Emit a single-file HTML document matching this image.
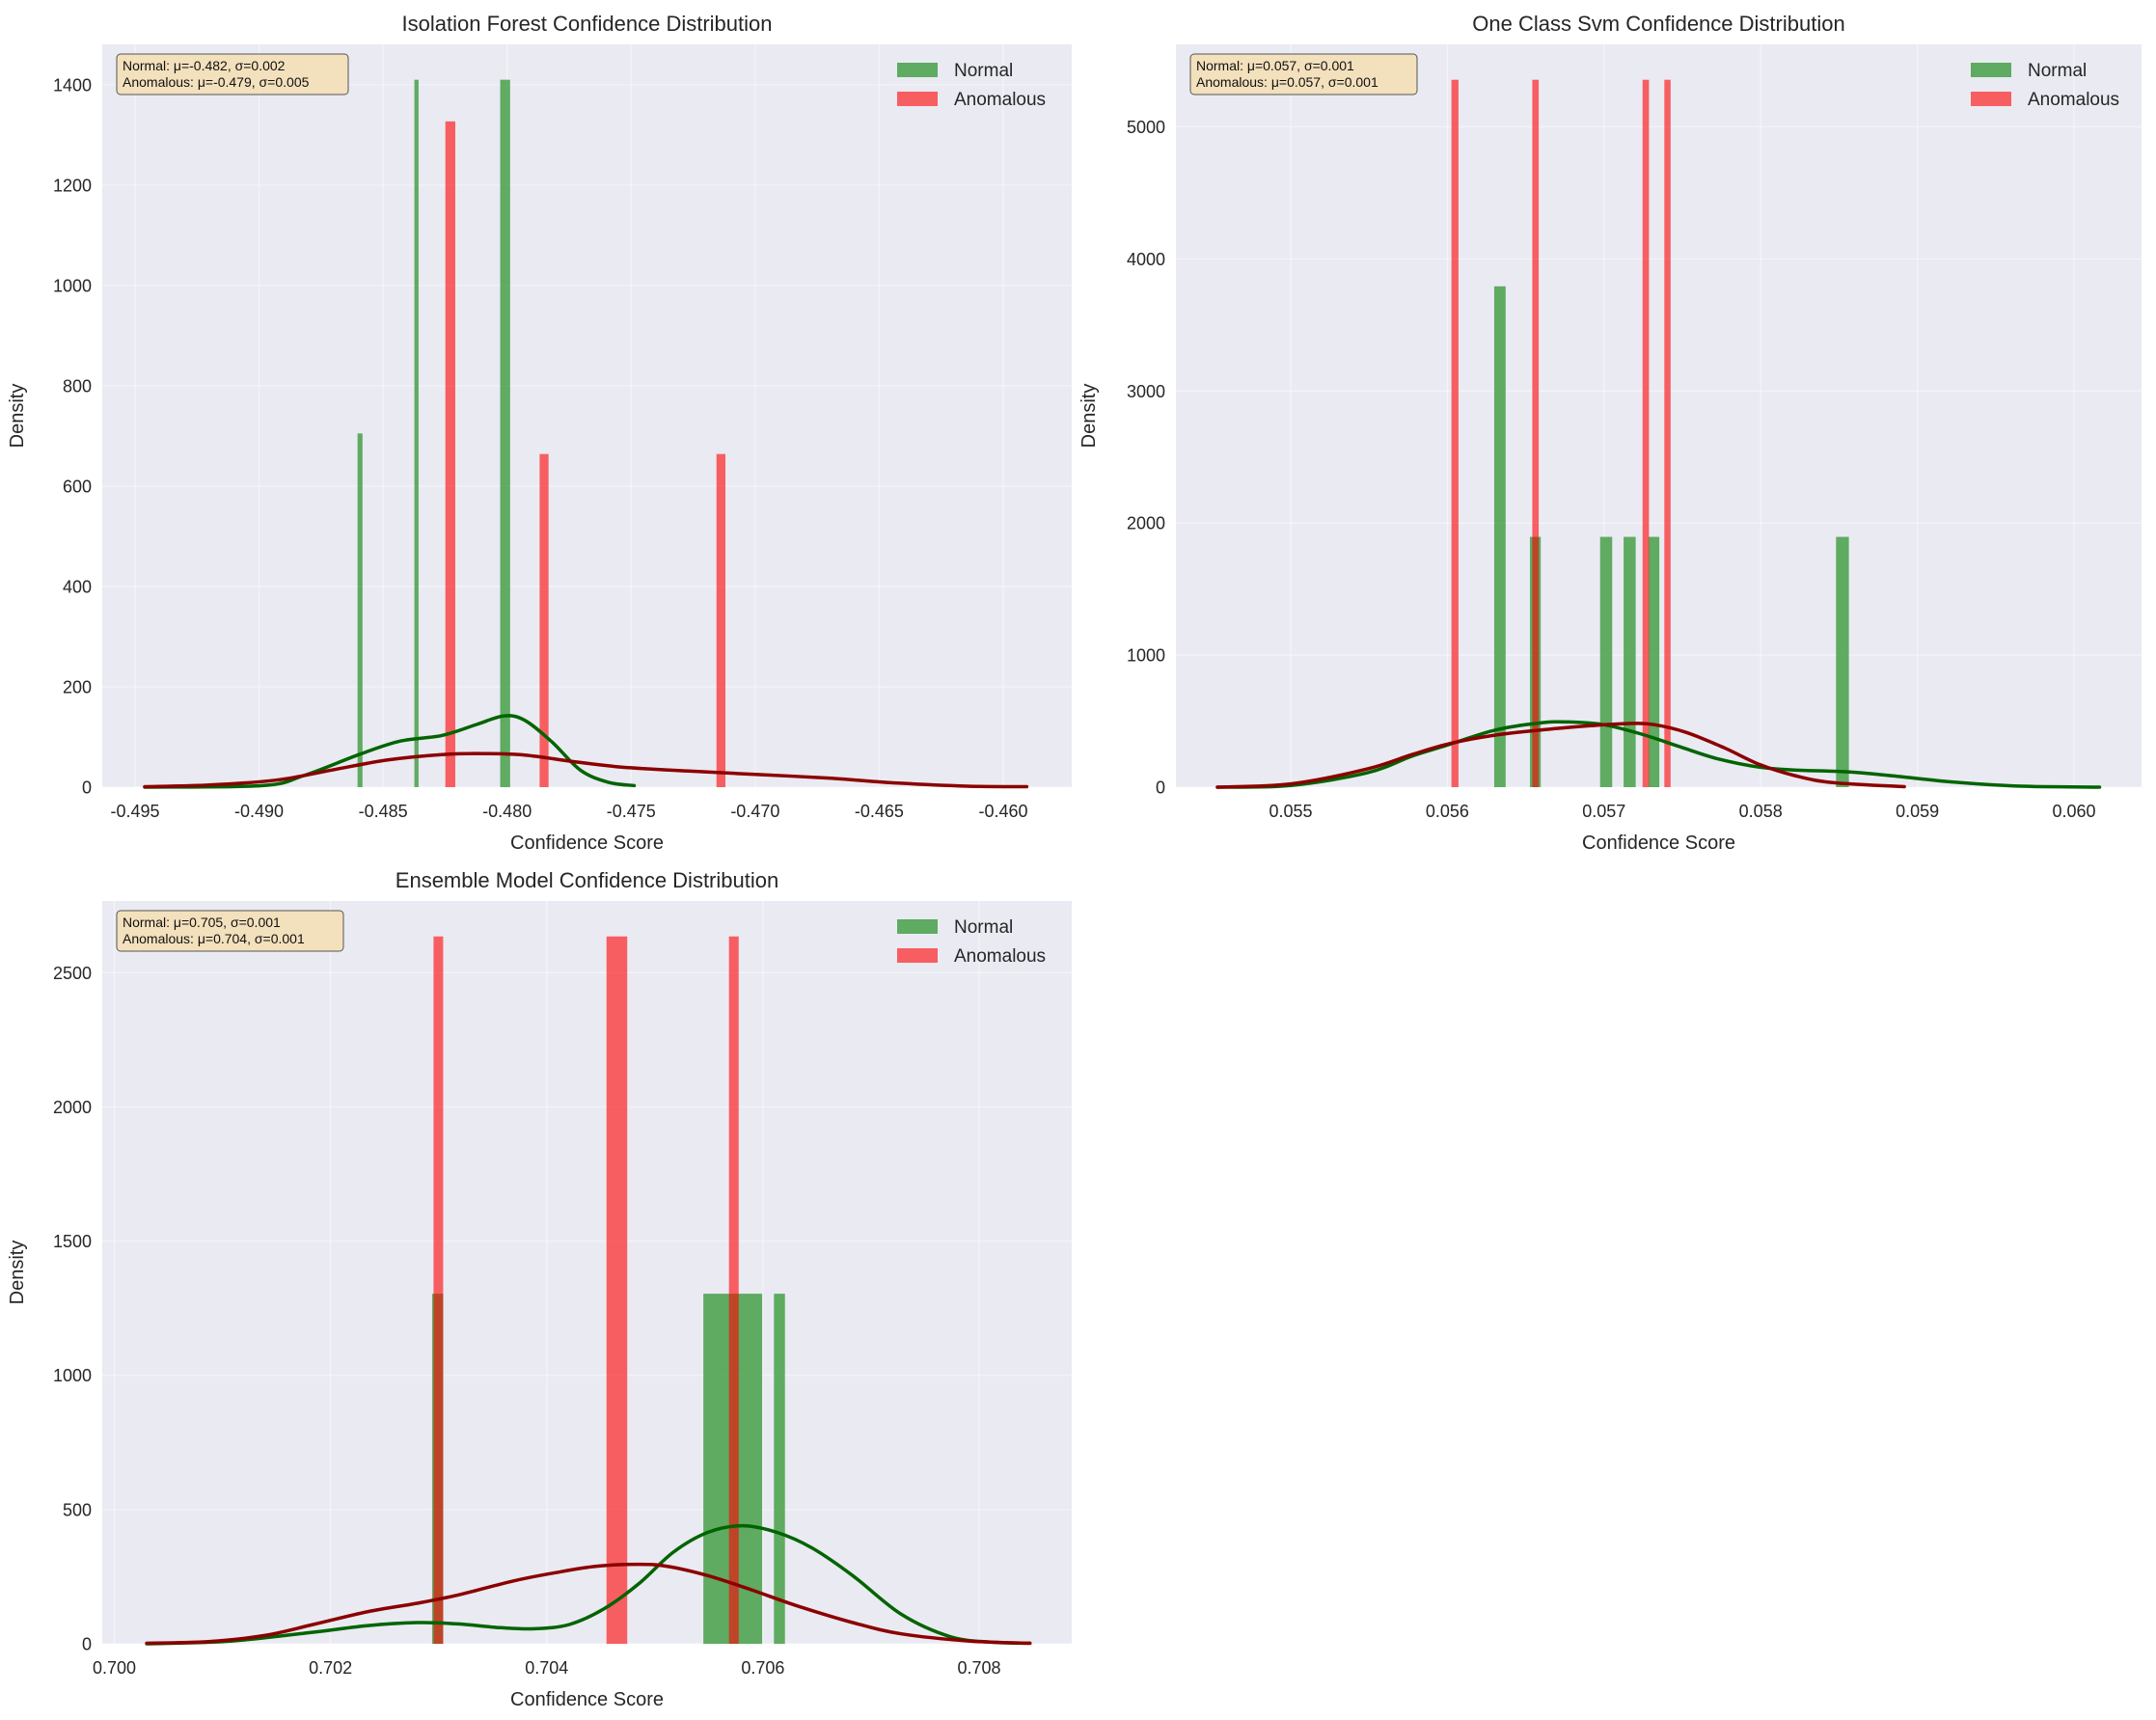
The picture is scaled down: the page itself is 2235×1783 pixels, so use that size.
<!DOCTYPE html>
<html><head><meta charset="utf-8">
<style>
html,body{margin:0;padding:0;background:#fff;}
svg{display:block;font-family:"Liberation Sans",Arial,sans-serif;}
</style></head>
<body>
<svg id="fig" width="2235" height="1783" viewBox="0 0 2235 1783" xmlns="http://www.w3.org/2000/svg"></svg>
<script>
// ---------- Isolation Forest data ----------
const ifNormalBins = [[-0.48603,-0.48583],[-0.48374,-0.48357],[-0.48028,-0.47988]];
const ifNormalDens = [705,1410,1410];
const ifAnomBins = [[-0.48249,-0.48209],[-0.47869,-0.47833],[-0.47156,-0.47120]];
const ifAnomDens = [1327,664,664];
const ifNormKdeX = [-0.49461,-0.48987,-0.48820,-0.48597,-0.48430,-0.48263,-0.48123,-0.48012,-0.47928,-0.47817,-0.47705,-0.47594,-0.47488];
const ifNormKdeY = [0,3,23,65,92,103,125,142,133,89,34,10,3];
const ifAnomKdeX = [-0.49461,-0.49210,-0.48931,-0.48708,-0.48485,-0.48263,-0.48095,-0.47928,-0.47733,-0.47538,-0.47259,-0.46980,-0.46702,-0.46423,-0.46144,-0.45905];
const ifAnomKdeY = [1,4,14,34,54,65,67,64,51,40,32,25,18,8,2,1];
const ifXTicks = [-0.495,-0.490,-0.485,-0.480,-0.475,-0.470,-0.465,-0.460];
const ifXTickLabels = ["-0.495","-0.490","-0.485","-0.480","-0.475","-0.470","-0.465","-0.460"];
const ifYTicks = [0,200,400,600,800,1000,1200,1400];

// ---------- One Class SVM data ----------
const svmNormalBins = [[0.056299,0.056372],[0.056527,0.056596],[0.056975,0.057052],[0.057125,0.057202],[0.057284,0.057353],[0.058481,0.058563]];
const svmNormalDens = [3792,1895,1895,1895,1895,1895];
const svmAnomBins = [[0.056026,0.056071],[0.056542,0.056583],[0.057246,0.057287],[0.057385,0.057425]];
const svmAnomDens = [5356,5356,5356,5356];
const svmNormKdeX = [0.054532,0.055000,0.055489,0.055774,0.055998,0.056303,0.056588,0.056771,0.056995,0.057239,0.057484,0.057728,0.057993,0.058217,0.058542,0.058827,0.059235,0.059642,0.060163];
const svmNormKdeY = [0,13,109,235,318,432,486,494,473,402,306,214,151,130,117,88,38,8,0];
const svmAnomKdeX = [0.054532,0.055000,0.055489,0.055774,0.056018,0.056303,0.056588,0.056914,0.057158,0.057321,0.057524,0.057769,0.057993,0.058217,0.058461,0.058917];
const svmAnomKdeY = [0,25,138,247,331,394,432,465,482,473,415,297,172,88,34,4];
const svmXTicks = [0.055,0.056,0.057,0.058,0.059,0.060];
const svmXTickLabels = ["0.055","0.056","0.057","0.058","0.059","0.060"];
const svmYTicks = [0,1000,2000,3000,4000,5000];

// ---------- Ensemble data ----------
const ensNormalBins = [[0.702940,0.703042],[0.705449,0.705721],[0.705721,0.705993],[0.706102,0.706204]];
const ensNormalDens = [1304,1304,1304,1304];
const ensAnomBins = [[0.702953,0.703042],[0.704553,0.704745],[0.705686,0.705776]];
const ensAnomDens = [2635,2635,2635];
const ensNormKdeX = [0.70030,0.70107,0.70184,0.70235,0.70280,0.70318,0.70357,0.70389,0.70421,0.70453,0.70485,0.70517,0.70549,0.70581,0.70613,0.70645,0.70683,0.70728,0.70773,0.70811,0.70847];
const ensNormKdeY = [0,10,43,68,79,74,60,56,72,130,223,341,415,440,415,358,254,110,27,6,2];
const ensAnomKdeX = [0.70030,0.70087,0.70139,0.70184,0.70235,0.70280,0.70318,0.70369,0.70408,0.70446,0.70485,0.70511,0.70549,0.70588,0.70632,0.70683,0.70728,0.70792,0.70847];
const ensAnomKdeY = [2,8,31,72,120,151,182,234,265,289,296,289,254,203,141,79,37,10,2];
const ensXTicks = [0.700,0.702,0.704,0.706,0.708];
const ensXTickLabels = ["0.700","0.702","0.704","0.706","0.708"];
const ensYTicks = [0,500,1000,1500,2000,2500];

const NS = "http://www.w3.org/2000/svg";
const fig = document.getElementById('fig');
function mk(tag, attrs, parent){
  const e = document.createElementNS(NS, tag);
  for (const k in attrs) e.setAttribute(k, attrs[k]);
  (parent||fig).appendChild(e);
  return e;
}
function smoothPath(pts){
  let d = 'M' + pts[0][0].toFixed(1) + ',' + pts[0][1].toFixed(1);
  for (let i = 0; i < pts.length - 1; i++){
    const p0 = pts[Math.max(0,i-1)], p1 = pts[i], p2 = pts[i+1], p3 = pts[Math.min(pts.length-1,i+2)];
    const c1x = p1[0] + (p2[0]-p0[0])/6, c1y = p1[1] + (p2[1]-p0[1])/6;
    const c2x = p2[0] - (p3[0]-p1[0])/6, c2y = p2[1] - (p3[1]-p1[1])/6;
    d += ' C' + c1x.toFixed(1)+','+c1y.toFixed(1)+' '+c2x.toFixed(1)+','+c2y.toFixed(1)+' '+p2[0].toFixed(1)+','+p2[1].toFixed(1);
  }
  return d;
}

function drawPanel(p){
  const g = mk('g', {});
  
  
  const sx = v => p.x0px + (v - p.x0val) * p.pxPerUnit;
  const sy = v => p.bottom - v / p.ymax * (p.bottom - p.top);
  const bg = mk('rect', {x:p.left, y:p.top, width:p.right-p.left, height:p.bottom-p.top, fill:'#EAEAF2'}, g);
  
  
  p.xTicks.forEach((t,i)=>{
    const X = sx(t);
    const gl = mk('line', {x1:X, x2:X, y1:p.top, y2:p.bottom, stroke:'#ffffff', 'stroke-width':1.3, 'stroke-opacity':0.45}, g);
    
    
    const tl = mk('text', {x:X, y:p.bottom+31, 'font-size':18, fill:'#262626', 'text-anchor':'middle'}, g);
    tl.textContent = p.xTickLabels[i];
    
    
  });
  p.yTicks.forEach(t=>{
    const Y = sy(t);
    const gl = mk('line', {x1:p.left, x2:p.right, y1:Y, y2:Y, stroke:'#ffffff', 'stroke-width':1.3, 'stroke-opacity':0.45}, g);
    
    
    const tl = mk('text', {x:p.left-11, y:Y+6.5, 'font-size':18, fill:'#262626', 'text-anchor':'end'}, g);
    tl.textContent = String(t);
    
    
  });
  const drawBars = (bins, dens, color, nm) => {
    bins.forEach((b,i)=>{
      const x1 = sx(b[0]), x2 = sx(b[1]);
      const r = mk('rect', {x:x1, y:sy(dens[i]), width:Math.max(1,x2-x1), height:p.bottom-sy(dens[i]), fill:color, 'fill-opacity':0.6}, g);
      
      
    });
  };
  drawBars(p.nBins, p.nDens, '#008000', 'normal-bar');
  drawBars(p.aBins, p.aDens, '#ff0000', 'anomalous-bar');
  const drawLine = (xs, ys, color, nm) => {
    const pts = xs.map((x,i)=>[sx(x), sy(ys[i])]);
    const l = mk('path', {d:smoothPath(pts), fill:'none', stroke:color, 'stroke-width':3.5, 'stroke-linejoin':'round', 'stroke-linecap':'round'}, g);
    
    
  };
  drawLine(p.nKx, p.nKy, '#006400', 'normal-kde-line');
  drawLine(p.aKx, p.aKy, '#8B0000', 'anomalous-kde-line');
  const cx = (p.left+p.right)/2;
  const t = mk('text', {x:cx, y:p.top-14, 'font-size':22, fill:'#262626', 'text-anchor':'middle'}, g);
  t.textContent = p.title;
  
  
  const xl = mk('text', {x:cx, y:p.bottom+64, 'font-size':20, fill:'#262626', 'text-anchor':'middle'}, g);
  xl.textContent = 'Confidence Score';
  
  
  const yc = (p.top+p.bottom)/2;
  const yl = mk('text', {x:p.ylabelX, y:yc, 'font-size':20, fill:'#262626', 'text-anchor':'middle', transform:'rotate(-90 '+p.ylabelX+' '+yc+')'}, g);
  yl.textContent = 'Density';
  
  
  const sb = mk('rect', {x:p.left+15, y:p.top+10, width:p.boxW, height:42, rx:4, fill:'#F5DEB3', 'fill-opacity':0.85, stroke:'#555', 'stroke-width':1}, g);
  
  
  p.stats.forEach((s,i)=>{
    const st = mk('text', {x:p.left+21, y:p.top+27+i*17, 'font-size':14, fill:'#111'}, g);
    st.textContent = s;
    
    
  });
  [['Normal','#008000'],['Anomalous','#ff0000']].forEach((e,i)=>{
    const lg = mk('g', {}, g);
    
    
    const sw = mk('rect', {x:p.right-p.legOff, y:p.top+19+i*30, width:42, height:15, fill:e[1], 'fill-opacity':0.6}, lg);
    
    
    const lt = mk('text', {x:p.right-p.legOff+59, y:p.top+33+i*30, 'font-size':19, fill:'#262626'}, lg);
    lt.textContent = e[0];
    
    
  });
}

drawPanel({name:'isolation-forest-chart', left:106, right:1111, top:46, bottom:816,
  x0val:-0.495, x0px:140, pxPerUnit:128.57/0.005, ymax:1480.5, ylabelX:24,
  xTicks:ifXTicks, xTickLabels:ifXTickLabels, yTicks:ifYTicks,
  nBins:ifNormalBins, nDens:ifNormalDens, aBins:ifAnomBins, aDens:ifAnomDens,
  nKx:ifNormKdeX, nKy:ifNormKdeY, aKx:ifAnomKdeX, aKy:ifAnomKdeY,
  title:'Isolation Forest Confidence Distribution', boxW:240, legOff:181,
  stats:['Normal: μ=-0.482, σ=0.002','Anomalous: μ=-0.479, σ=0.005']});

drawPanel({name:'one-class-svm-chart', left:1219, right:2220, top:46, bottom:816,
  x0val:0.055, x0px:1338, pxPerUnit:162.4/0.001, ymax:5624, ylabelX:1135,
  xTicks:svmXTicks, xTickLabels:svmXTickLabels, yTicks:svmYTicks,
  nBins:svmNormalBins, nDens:svmNormalDens, aBins:svmAnomBins, aDens:svmAnomDens,
  nKx:svmNormKdeX, nKy:svmNormKdeY, aKx:svmAnomKdeX, aKy:svmAnomKdeY,
  title:'One Class Svm Confidence Distribution', boxW:235, legOff:177,
  stats:['Normal: μ=0.057, σ=0.001','Anomalous: μ=0.057, σ=0.001']});

drawPanel({name:'ensemble-model-chart', left:106, right:1111, top:934, bottom:1704,
  x0val:0.700, x0px:118.5, pxPerUnit:(1015-118.5)/0.008, ymax:2767, ylabelX:24,
  xTicks:ensXTicks, xTickLabels:ensXTickLabels, yTicks:ensYTicks,
  nBins:ensNormalBins, nDens:ensNormalDens, aBins:ensAnomBins, aDens:ensAnomDens,
  nKx:ensNormKdeX, nKy:ensNormKdeY, aKx:ensAnomKdeX, aKy:ensAnomKdeY,
  title:'Ensemble Model Confidence Distribution', boxW:235, legOff:181,
  stats:['Normal: μ=0.705, σ=0.001','Anomalous: μ=0.704, σ=0.001']});
</script>
</body></html>
